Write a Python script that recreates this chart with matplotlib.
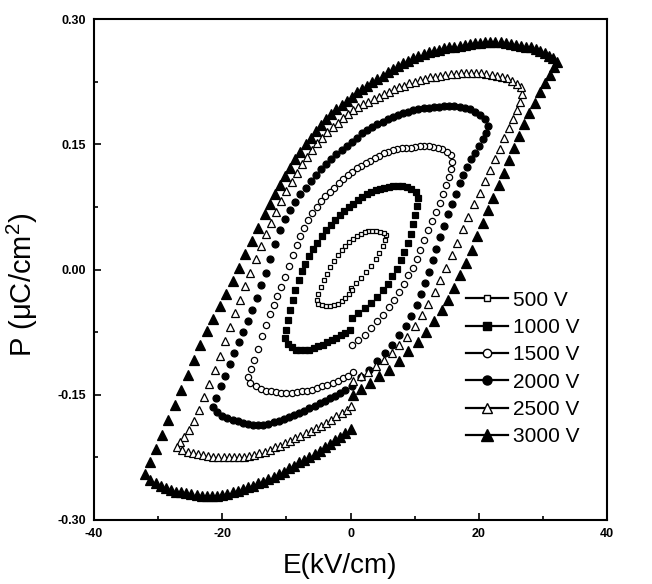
import matplotlib

matplotlib.use("Agg")
import numpy as np
from matplotlib import pyplot as plt
from matplotlib.ticker import MultipleLocator

plt.rcParams["font.family"] = ["Liberation Sans", "DejaVu Sans"]
plt.rcParams["mathtext.default"] = "regular"

labels = ["500 V", "1000 V", "1500 V", "2000 V", "2500 V", "3000 V"]

# (E in kV/cm, P in uC/cm2)
loop_500 = [
    (0.0, -0.022), (0.8, -0.016), (1.6, -0.010), (2.4, -0.003), (3.2, 0.004),
    (3.9, 0.012), (4.5, 0.020), (5.0, 0.028), (5.4, 0.035), (5.6, 0.041),
    (5.2, 0.044), (4.6, 0.045), (4.0, 0.046), (3.4, 0.046), (2.8, 0.046),
    (2.2, 0.045), (1.6, 0.043), (1.0, 0.040), (0.4, 0.037), (-0.2, 0.033),
    (-0.8, 0.028), (-1.4, 0.023), (-2.0, 0.017), (-2.6, 0.010), (-3.2, 0.003),
    (-3.7, -0.005), (-4.2, -0.013), (-4.6, -0.021), (-5.0, -0.029), (-5.3, -0.036),
    (-5.0, -0.041), (-4.4, -0.043), (-3.8, -0.044), (-3.2, -0.044), (-2.6, -0.043),
    (-2.0, -0.041), (-1.4, -0.038), (-0.8, -0.034), (-0.2, -0.029), (0.3, -0.025),
]

loop_1000 = [
    (0.2, -0.058), (1.2, -0.052), (2.2, -0.046), (3.2, -0.040), (4.1, -0.033),
    (5.0, -0.025), (5.8, -0.017), (6.5, -0.008), (7.2, 0.001), (7.8, 0.011),
    (8.4, 0.021), (8.9, 0.032), (9.4, 0.043), (9.8, 0.054), (10.1, 0.065),
    (10.4, 0.076), (10.6, 0.086),
    (10.2, 0.093), (9.5, 0.097), (8.8, 0.099), (8.1, 0.100), (7.4, 0.100),
    (6.7, 0.100), (6.0, 0.099), (5.3, 0.098), (4.6, 0.097), (3.9, 0.095),
    (3.2, 0.093), (2.5, 0.090), (1.8, 0.087), (1.1, 0.083), (0.4, 0.079),
    (-0.3, 0.075), (-1.0, 0.070), (-1.7, 0.065), (-2.4, 0.059), (-3.1, 0.053),
    (-3.8, 0.047), (-4.5, 0.040), (-5.2, 0.032), (-5.9, 0.024), (-6.5, 0.016),
    (-7.1, 0.007), (-7.6, -0.002), (-8.1, -0.012), (-8.6, -0.024), (-9.0, -0.036),
    (-9.4, -0.048), (-9.7, -0.060), (-10.0, -0.072), (-10.2, -0.082),
    (-9.8, -0.089), (-9.2, -0.093), (-8.5, -0.096), (-7.8, -0.097), (-7.1, -0.097),
    (-6.4, -0.096), (-5.7, -0.094), (-5.0, -0.092), (-4.3, -0.090), (-3.6, -0.087),
    (-2.9, -0.085), (-2.2, -0.082), (-1.5, -0.079), (-0.8, -0.076), (-0.1, -0.073),
]

loop_1500 = [
    (0.2, -0.090), (1.2, -0.085), (2.2, -0.078), (3.2, -0.070), (4.2, -0.062),
    (5.1, -0.054), (6.0, -0.045), (6.8, -0.036), (7.6, -0.027), (8.3, -0.017),
    (9.0, -0.007), (9.7, 0.002), (10.3, 0.012), (10.9, 0.023), (11.5, 0.035),
    (12.1, 0.047), (12.7, 0.058), (13.3, 0.069), (13.9, 0.080), (14.4, 0.091),
    (14.9, 0.101), (15.3, 0.111), (15.6, 0.120), (15.9, 0.129),
    (15.6, 0.137), (15.0, 0.141), (14.3, 0.144), (13.6, 0.146), (12.9, 0.147),
    (12.2, 0.148), (11.5, 0.148), (10.8, 0.148), (10.1, 0.147), (9.4, 0.146),
    (8.7, 0.146), (8.0, 0.145), (7.3, 0.144), (6.6, 0.143), (5.9, 0.141),
    (5.2, 0.139), (4.5, 0.136), (3.8, 0.133), (3.1, 0.130), (2.4, 0.127),
    (1.7, 0.124), (1.0, 0.121), (0.3, 0.117), (-0.4, 0.113), (-1.1, 0.108),
    (-1.8, 0.103), (-2.5, 0.098), (-3.2, 0.093), (-3.9, 0.088), (-4.6, 0.082),
    (-5.3, 0.075), (-6.0, 0.068), (-6.6, 0.059), (-7.2, 0.050), (-7.8, 0.040),
    (-8.4, 0.029), (-9.0, 0.017), (-9.6, 0.004), (-10.2, -0.009), (-10.8, -0.021),
    (-11.4, -0.032), (-12.0, -0.043), (-12.6, -0.053), (-13.2, -0.066), (-13.8, -0.080),
    (-14.4, -0.095), (-15.0, -0.108), (-15.5, -0.119), (-16.0, -0.129),
    (-15.6, -0.136), (-14.8, -0.140), (-14.0, -0.143), (-13.2, -0.145), (-12.4, -0.146),
    (-11.6, -0.147), (-10.8, -0.148), (-10.0, -0.148), (-9.2, -0.148), (-8.4, -0.147),
    (-7.6, -0.146), (-6.8, -0.145), (-6.0, -0.144), (-5.2, -0.142), (-4.4, -0.140),
    (-3.6, -0.138), (-2.8, -0.136), (-2.0, -0.133), (-1.2, -0.130), (-0.4, -0.127),
    (0.4, -0.123),
]

loop_2000 = [
    (0.3, -0.139), (1.6, -0.129), (2.9, -0.120), (4.2, -0.110), (5.4, -0.100),
    (6.5, -0.090), (7.6, -0.079), (8.6, -0.068), (9.5, -0.056), (10.3, -0.043),
    (11.0, -0.029), (11.6, -0.016), (12.2, -0.003), (12.8, 0.011), (13.4, 0.025),
    (14.0, 0.039), (14.6, 0.052), (15.2, 0.066), (15.8, 0.079), (16.4, 0.091),
    (17.0, 0.103), (17.6, 0.113), (18.2, 0.123), (18.8, 0.132), (19.4, 0.140),
    (20.0, 0.148), (20.6, 0.156), (21.1, 0.164), (21.5, 0.172),
    (21.0, 0.180), (20.2, 0.185), (19.4, 0.189), (18.6, 0.192), (17.8, 0.194),
    (17.0, 0.195), (16.2, 0.196), (15.4, 0.196), (14.6, 0.196), (13.8, 0.195),
    (13.0, 0.195), (12.2, 0.194), (11.4, 0.193), (10.6, 0.192), (9.8, 0.191),
    (9.0, 0.189), (8.2, 0.187), (7.4, 0.185), (6.6, 0.183), (5.8, 0.180),
    (5.0, 0.177), (4.2, 0.174), (3.4, 0.171), (2.6, 0.167), (1.8, 0.163),
    (1.0, 0.158), (0.2, 0.153), (-0.6, 0.148), (-1.4, 0.143), (-2.2, 0.138),
    (-3.0, 0.132), (-3.8, 0.126), (-4.6, 0.120), (-5.4, 0.113), (-6.2, 0.106),
    (-7.0, 0.098), (-7.8, 0.090), (-8.6, 0.081), (-9.4, 0.071), (-10.2, 0.060),
    (-11.0, 0.047), (-11.8, 0.031), (-12.5, 0.013), (-13.2, -0.004), (-13.9, -0.019),
    (-14.6, -0.034), (-15.3, -0.048), (-16.0, -0.062), (-16.7, -0.075), (-17.4, -0.087),
    (-18.1, -0.100), (-18.8, -0.113), (-19.5, -0.127), (-20.2, -0.140), (-20.9, -0.154),
    (-21.5, -0.165),
    (-20.8, -0.171), (-20.0, -0.175), (-19.2, -0.178), (-18.4, -0.180), (-17.6, -0.182),
    (-16.8, -0.184), (-16.0, -0.185), (-15.2, -0.186), (-14.4, -0.186), (-13.6, -0.186),
    (-12.8, -0.185), (-12.0, -0.183), (-11.2, -0.181), (-10.4, -0.179), (-9.6, -0.177),
    (-8.8, -0.174), (-8.0, -0.172), (-7.2, -0.169), (-6.4, -0.166), (-5.6, -0.163),
    (-4.8, -0.160), (-4.0, -0.157), (-3.2, -0.154), (-2.4, -0.151), (-1.6, -0.148),
    (-0.8, -0.144),
]

loop_2500 = [
    (0.4, -0.133), (1.6, -0.128), (2.8, -0.123), (4.0, -0.116), (5.2, -0.108),
    (6.4, -0.100), (7.6, -0.091), (8.8, -0.081), (10.0, -0.068), (11.1, -0.055),
    (12.1, -0.041), (13.1, -0.027), (14.0, -0.013), (14.9, 0.002), (15.8, 0.017),
    (16.6, 0.032), (17.5, 0.048), (18.4, 0.063), (19.3, 0.078), (20.2, 0.092),
    (21.0, 0.106), (21.8, 0.119), (22.6, 0.132), (23.3, 0.144), (24.0, 0.157),
    (24.7, 0.169), (25.3, 0.180), (25.9, 0.191), (26.4, 0.201), (26.8, 0.210),
    (26.6, 0.218), (26.0, 0.222), (25.2, 0.226), (24.4, 0.229), (23.6, 0.231),
    (22.8, 0.232), (22.0, 0.233), (21.2, 0.234), (20.4, 0.235), (19.6, 0.235),
    (18.8, 0.235), (18.0, 0.235), (17.2, 0.235), (16.4, 0.234), (15.6, 0.234),
    (14.8, 0.233), (14.0, 0.232), (13.2, 0.231), (12.4, 0.230), (11.6, 0.228),
    (10.8, 0.227), (10.0, 0.225), (9.2, 0.223), (8.4, 0.220), (7.6, 0.218),
    (6.8, 0.216), (6.0, 0.213), (5.2, 0.210), (4.4, 0.207), (3.6, 0.204),
    (2.8, 0.201), (2.0, 0.198), (1.2, 0.195), (0.4, 0.191), (-0.4, 0.186),
    (-1.2, 0.181), (-2.0, 0.176), (-2.8, 0.171), (-3.6, 0.165), (-4.4, 0.158),
    (-5.2, 0.151), (-6.0, 0.143), (-6.8, 0.135), (-7.6, 0.126), (-8.4, 0.116),
    (-9.2, 0.105), (-10.0, 0.094), (-10.8, 0.082), (-11.6, 0.069), (-12.4, 0.056),
    (-13.2, 0.042), (-14.0, 0.028), (-14.8, 0.012), (-15.6, -0.004), (-16.4, -0.020),
    (-17.2, -0.036), (-18.0, -0.052), (-18.8, -0.069), (-19.6, -0.086), (-20.4, -0.103),
    (-21.2, -0.120), (-22.0, -0.137), (-22.8, -0.153), (-23.6, -0.168), (-24.4, -0.181),
    (-25.2, -0.192), (-26.0, -0.201), (-26.6, -0.207), (-27.0, -0.212),
    (-26.2, -0.216), (-25.4, -0.218), (-24.6, -0.220), (-23.8, -0.221), (-23.0, -0.222),
    (-22.2, -0.223), (-21.4, -0.224), (-20.6, -0.225), (-19.8, -0.225), (-19.0, -0.225),
    (-18.2, -0.225), (-17.4, -0.224), (-16.6, -0.224), (-15.8, -0.223), (-15.0, -0.222),
    (-14.2, -0.220), (-13.4, -0.218), (-12.6, -0.216), (-11.8, -0.213), (-11.0, -0.211),
    (-10.2, -0.208), (-9.4, -0.205), (-8.6, -0.202), (-7.8, -0.199), (-7.0, -0.196),
    (-6.2, -0.193), (-5.4, -0.190), (-4.6, -0.187), (-3.8, -0.184), (-3.0, -0.180),
    (-2.2, -0.176), (-1.4, -0.172), (-0.6, -0.168), (0.0, -0.164),
]

loop_3000 = [
    (0.4, -0.150), (1.6, -0.143), (3.0, -0.136), (4.5, -0.128), (6.0, -0.120),
    (7.5, -0.109), (9.0, -0.098), (10.5, -0.087), (11.8, -0.075), (13.0, -0.062),
    (14.2, -0.049), (15.2, -0.037), (16.2, -0.022), (17.1, -0.007), (18.0, 0.008),
    (18.9, 0.023), (19.8, 0.040), (20.7, 0.056), (21.5, 0.071), (22.3, 0.086),
    (23.1, 0.101), (23.9, 0.116), (24.7, 0.131), (25.5, 0.146), (26.3, 0.160),
    (27.1, 0.174), (27.9, 0.187), (28.7, 0.200), (29.5, 0.212), (30.3, 0.223),
    (31.1, 0.233), (31.8, 0.242), (32.2, 0.249),
    (31.6, 0.253), (31.0, 0.256), (30.3, 0.259), (29.6, 0.262), (28.9, 0.264),
    (28.2, 0.266), (27.4, 0.267), (26.6, 0.268), (25.8, 0.269), (25.0, 0.270),
    (24.2, 0.271), (23.4, 0.272), (22.6, 0.272), (21.8, 0.272), (21.0, 0.272),
    (20.2, 0.271), (19.4, 0.271), (18.6, 0.270), (17.8, 0.269), (17.0, 0.268),
    (16.2, 0.267), (15.4, 0.266), (14.6, 0.265), (13.8, 0.263), (13.0, 0.262),
    (12.2, 0.260), (11.4, 0.258), (10.6, 0.256), (9.8, 0.253), (9.0, 0.250),
    (8.2, 0.247), (7.4, 0.244), (6.6, 0.240), (5.8, 0.236), (5.0, 0.232),
    (4.2, 0.228), (3.4, 0.224), (2.6, 0.220), (1.8, 0.216), (1.0, 0.212),
    (0.2, 0.207), (-0.6, 0.202), (-1.4, 0.197), (-2.2, 0.192), (-3.0, 0.186),
    (-3.8, 0.180), (-4.6, 0.173), (-5.4, 0.166), (-6.2, 0.158), (-7.0, 0.150),
    (-7.8, 0.141), (-8.6, 0.132), (-9.4, 0.122), (-10.2, 0.112), (-11.0, 0.101),
    (-11.8, 0.090), (-12.6, 0.078), (-13.4, 0.066), (-14.4, 0.050), (-15.4, 0.034),
    (-16.4, 0.018), (-17.4, 0.002), (-18.4, -0.014), (-19.4, -0.029), (-20.4, -0.044),
    (-21.4, -0.059), (-22.4, -0.074), (-23.4, -0.091), (-24.4, -0.108), (-25.4, -0.126),
    (-26.4, -0.144), (-27.4, -0.162), (-28.4, -0.180), (-29.4, -0.198), (-30.4, -0.215),
    (-31.3, -0.230), (-32.0, -0.245),
    (-31.2, -0.252), (-30.4, -0.256), (-29.6, -0.259), (-28.8, -0.262), (-28.0, -0.264),
    (-27.2, -0.266), (-26.4, -0.267), (-25.6, -0.268), (-24.8, -0.269), (-24.0, -0.270),
    (-23.2, -0.271), (-22.4, -0.271), (-21.6, -0.271), (-20.8, -0.271), (-20.0, -0.270),
    (-19.2, -0.269), (-18.4, -0.267), (-17.6, -0.265), (-16.8, -0.263), (-16.0, -0.261),
    (-15.2, -0.259), (-14.4, -0.256), (-13.6, -0.254), (-12.8, -0.251), (-12.0, -0.248),
    (-11.2, -0.245), (-10.4, -0.242), (-9.6, -0.238), (-8.8, -0.235), (-8.0, -0.231),
    (-7.2, -0.228), (-6.4, -0.224), (-5.6, -0.221), (-4.8, -0.217), (-4.0, -0.213),
    (-3.2, -0.209), (-2.4, -0.204), (-1.6, -0.200), (-0.8, -0.196), (0.0, -0.191),
]

loops = [loop_500, loop_1000, loop_1500, loop_2000, loop_2500, loop_3000]
markers = ["s", "s", "o", "o", "^", "^"]
filled = [False, True, False, True, False, True]
sizes = [3.5, 4.5, 4.5, 5.0, 5.5, 6.5]

fig = plt.figure(figsize=(6.52, 5.84), dpi=100)
ax = fig.add_axes([94 / 652, 64 / 584, 513 / 652, 501 / 584])

for pts, lab, m, f, ms in zip(loops, labels, markers, filled, sizes):
    arr = np.array(pts)
    ax.plot(arr[:, 0], arr[:, 1], linestyle="none", marker=m, ms=ms,
            mfc="black" if f else "white", mec="black", mew=0.9)
    # legend handle: line through marker
    ax.plot([], [], color="black", lw=1.6, marker=m, ms=ms + 1.5,
            mfc="black" if f else "white", mec="black", mew=1.0, label=lab)

ax.set_xlim(-40, 40)
ax.set_ylim(-0.30, 0.30)
ax.xaxis.set_minor_locator(MultipleLocator(10))
ax.yaxis.set_minor_locator(MultipleLocator(0.075))
ax.set_yticks([-0.30, -0.15, 0.0, 0.15, 0.30])
ax.set_yticklabels(["-0.30", "-0.15", "0.00", "0.15", "0.30"])
ax.set_xticks([-40, -20, 0, 20, 40])
ax.set_xticklabels(["-40", "-20", "0", "20", "40"])

ax.tick_params(which="both", direction="in", top=False, right=False, width=1.2)
ax.tick_params(which="major", length=5, pad=6)
ax.tick_params(which="minor", length=3)
for lab in ax.get_xticklabels() + ax.get_yticklabels():
    lab.set_fontsize(9)
    lab.set_fontweight("bold")
for sp in ax.spines.values():
    sp.set_linewidth(1.5)

ax.set_xlabel("E(kV/cm)", fontsize=20)
ax.xaxis.set_label_coords(0.48, -0.065)
ax.set_ylabel("P (μC/cm$^{2}$)", fontsize=21)
ax.yaxis.set_label_coords(-0.105, 0.47)

leg = ax.legend(loc="upper left", bbox_to_anchor=(0.725, 0.458), frameon=False,
                fontsize=15, handlelength=2.0, handletextpad=0.25,
                labelspacing=0.40, borderpad=0, borderaxespad=0, numpoints=1)

plt.savefig("out.png", dpi=100)
plt.close()
